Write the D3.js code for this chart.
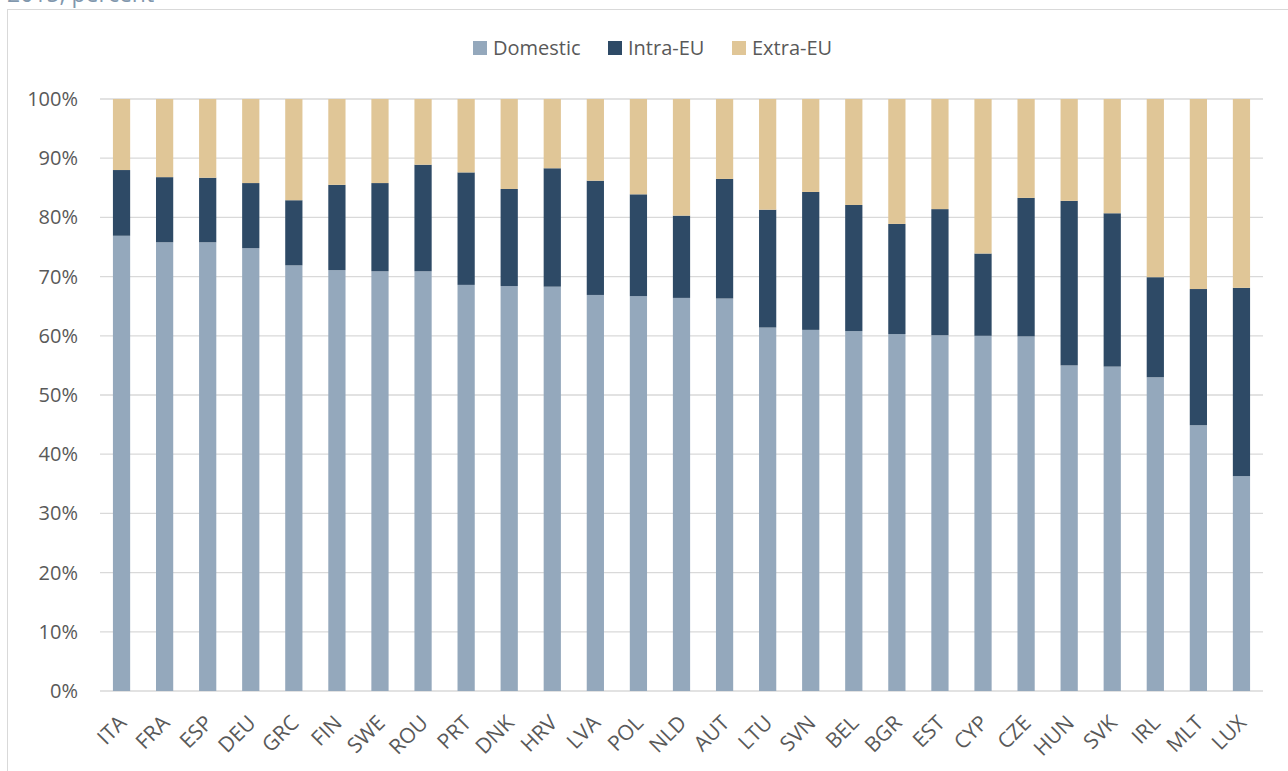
<!DOCTYPE html>
<html>
<head>
<meta charset="utf-8">
<script src="https://cdn.jsdelivr.net/npm/d3@7"></script>
<style>
  body { margin: 0; background: #fff; }
  svg { display: block; font-family: "Open Sans", sans-serif; }
</style>
</head>
<body>
<svg id="chart"></svg>
<script>
const countries = ["ITA", "FRA", "ESP", "DEU", "GRC", "FIN", "SWE", "ROU", "PRT", "DNK", "HRV", "LVA", "POL", "NLD",
  "AUT", "LTU", "SVN", "BEL", "BGR", "EST", "CYP", "CZE", "HUN", "SVK", "IRL", "MLT", "LUX"];
const domestic = [76.9, 75.8, 75.8, 74.8, 71.9, 71.1, 70.9, 70.9, 68.6, 68.4, 68.3, 66.9, 66.7, 66.4,
  66.3, 61.4, 61.0, 60.8, 60.3, 60.1, 60.0, 59.9, 55.0, 54.8, 53.0, 44.9, 36.3];
const intraEU = [11.1, 11.0, 10.9, 11.0, 11.0, 14.4, 14.9, 18.0, 19.0, 16.4, 20.0, 19.3, 17.2, 13.9,
  20.2, 19.9, 23.3, 21.3, 18.6, 21.3, 13.9, 23.4, 27.8, 25.9, 16.9, 23.0, 31.8];
const extraEU = [12.0, 13.2, 13.3, 14.2, 17.1, 14.5, 14.2, 11.1, 12.4, 15.2, 11.7, 13.8, 16.1, 19.7,
  13.5, 18.7, 15.7, 17.9, 21.1, 18.6, 26.1, 16.7, 17.2, 19.3, 30.1, 32.1, 31.9];
const seriesNames = ["Domestic", "Intra-EU", "Extra-EU"];
const seriesColors = ["#94a8bc", "#2e4a66", "#e0c697"];
const yTicks = [0, 10, 20, 30, 40, 50, 60, 70, 80, 90, 100];

const width = 1288, height = 771;
const margin = { top: 99, right: 25, bottom: 80, left: 100 };

const svg = d3.select("#chart").attr("width", width).attr("height", height);

// subtitle, cut off by the top edge as in the source page
svg.append("text")
  .attr("x", 7).attr("y", 2)
  .attr("fill", "#8197ad")
  .attr("font-size", "23px")
  .text("2015, percent");

// chart frame
svg.append("rect")
  .attr("x", 7.5).attr("y", 9.5)
  .attr("width", 1400).attr("height", 900)
  .attr("fill", "none")
  .attr("stroke", "#d9d9d9");

const x = d3.scaleBand()
  .domain(countries)
  .range([margin.left, width - margin.right])
  .paddingInner(0.6)
  .paddingOuter(0.3);

const y = d3.scaleLinear()
  .domain([0, 100])
  .range([height - margin.bottom, margin.top]);

// gridlines
svg.append("g")
  .selectAll("line")
  .data(yTicks)
  .join("line")
  .attr("x1", margin.left).attr("x2", width - margin.right)
  .attr("y1", d => y(d)).attr("y2", d => y(d))
  .attr("stroke", "#d9d9d9")
  .attr("stroke-width", 1.3);

// y tick labels
svg.append("g")
  .selectAll("text")
  .data(yTicks)
  .join("text")
  .attr("x", 78)
  .attr("y", d => y(d))
  .attr("dy", "0.35em")
  .attr("text-anchor", "end")
  .attr("fill", "#595959")
  .attr("font-size", "20px")
  .text(d => d + "%");

// stacked bars
const rows = countries.map((c, i) => ({ country: c, Domestic: domestic[i], "Intra-EU": intraEU[i], "Extra-EU": extraEU[i] }));
const stacked = d3.stack().keys(seriesNames)(rows);

svg.append("g")
  .selectAll("g")
  .data(stacked)
  .join("g")
  .attr("fill", (d, i) => seriesColors[i])
  .selectAll("rect")
  .data(d => d)
  .join("rect")
  .attr("x", d => x(d.data.country))
  .attr("width", x.bandwidth())
  .attr("y", d => y(d[1]))
  .attr("height", d => y(d[0]) - y(d[1]));

// x labels
svg.append("g")
  .selectAll("text")
  .data(countries)
  .join("text")
  .attr("transform", d => `translate(${x(d) + x.bandwidth() / 2 + 1},${y(0) + 28}) rotate(-45)`)
  .attr("text-anchor", "end")
  .attr("dy", "0.35em")
  .attr("fill", "#595959")
  .attr("font-size", "21px")
  .text(d => d);

// legend
const legendX = [473, 608, 732];
const legend = svg.append("g")
  .selectAll("g")
  .data(seriesNames)
  .join("g")
  .attr("transform", (d, i) => `translate(${legendX[i]},41)`);

legend.append("rect")
  .attr("width", 14).attr("height", 14)
  .attr("fill", (d, i) => seriesColors[i]);

legend.append("text")
  .attr("x", 20).attr("y", 7)
  .attr("dy", "0.35em")
  .attr("fill", "#595959")
  .attr("font-size", "20px")
  .text(d => d);
</script>
</body>
</html>
